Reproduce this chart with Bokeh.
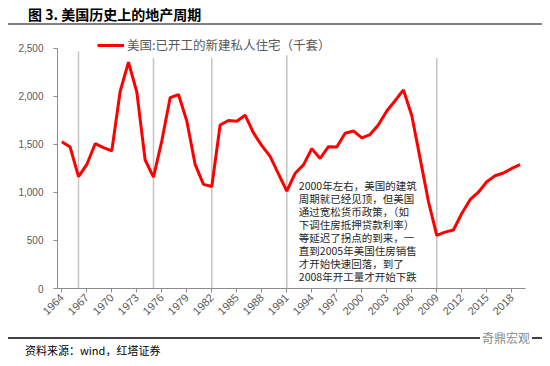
from bokeh.plotting import figure
from bokeh.layouts import column
from bokeh.models import (Range1d, FixedTicker, NumeralTickFormatter,
                          Legend, LegendItem, Div, ColumnDataSource)
from bokeh.core.properties import value
from bokeh.embed import file_html
from bokeh.resources import INLINE
import math

years = list(range(1964, 2020))
starts = [1529, 1473, 1165, 1292, 1508, 1467, 1434, 2052, 2357, 2045,
          1338, 1160, 1538, 1987, 2020, 1745, 1292, 1084, 1062, 1703,
          1750, 1742, 1805, 1621, 1488, 1376, 1193, 1014, 1200, 1288,
          1457, 1354, 1477, 1474, 1617, 1641, 1569, 1603, 1705, 1848,
          1956, 2068, 1801, 1355, 906, 554, 587, 609, 781, 925,
          1003, 1112, 1174, 1203, 1250, 1290]
trough_years = [1966, 1975, 1982, 1991, 2009]
trough_tops = [2470, 2400, 2400, 2430, 2400]
tick_years = list(range(1964, 2019, 3))
y_ticks = [0, 500, 1000, 1500, 2000, 2500]

title_text = "图 3. 美国历史上的地产周期"
legend_text = "美国:已开工的新建私人住宅（千套）"
source_text = "资料来源：wind，红塔证券"
mark_text = "奇鼎宏观"
note_lines = ["2000年左右，美国的建筑", "周期就已经见顶，但美国", "通过宽松货币政策，（如",
              "下调住房抵押贷款利率）", "等延迟了拐点的到来，一", "直到2005年美国住房销售",
              "才开始快速回落，到了", "2008年开工量才开始下跌"]

FONT = "Noto Sans CJK SC"
W = 534

title_div = Div(
    text=(f'<div style="position:relative;height:15px;width:{W}px">'
          f'<span style="position:absolute;left:20px;top:0px;font-family:\'{FONT}\';'
          f'font-weight:bold;font-size:14px;line-height:13px;color:#000;'
          f'white-space:nowrap">{title_text}</span></div>'),
    width=W, height=17, margin=0,
    styles={"border-bottom": "2px solid #808080", "box-sizing": "border-box",
            "padding": "0", "overflow": "visible"})

p = figure(width=W, height=312, output_backend="svg", toolbar_location=None,
           x_range=Range1d(1963.48, 2019.65), y_range=Range1d(0, 2635),
           min_border_left=49, min_border_right=17, min_border_top=10,
           min_border_bottom=49, margin=0)
p.outline_line_color = None
p.xgrid.visible = False
p.ygrid.visible = False
p.background_fill_color = "white"

p.segment(x0=trough_years, y0=[0] * len(trough_years), x1=trough_years,
          y1=trough_tops, line_color="#C4C4C4", line_width=1.5)

line = p.line(years, starts, line_color="#FF0000", line_width=3)

p.xaxis.ticker = FixedTicker(ticks=tick_years)
p.xaxis.major_label_orientation = math.pi / 4
p.xaxis.minor_tick_line_color = None
p.xaxis.major_tick_out = 4
p.xaxis.major_tick_in = 0
p.xaxis.axis_line_color = "#8C8C8C"
p.xaxis.major_tick_line_color = "#8C8C8C"
p.xaxis.major_label_text_color = "#595959"
p.xaxis.major_label_text_font = "Liberation Sans"
p.xaxis.major_label_text_font_size = "11px"
p.xaxis.major_label_standoff = 3

p.yaxis.ticker = FixedTicker(ticks=y_ticks)
p.yaxis.formatter = NumeralTickFormatter(format="0,0")
p.yaxis.bounds = (0, 2500)
p.yaxis.minor_tick_line_color = None
p.yaxis.major_tick_out = 4
p.yaxis.major_tick_in = 0
p.yaxis.axis_line_color = "#8C8C8C"
p.yaxis.major_tick_line_color = "#8C8C8C"
p.yaxis.major_label_text_color = "#595959"
p.yaxis.major_label_text_font = "Liberation Sans"
p.yaxis.major_label_text_font_size = "10px"
p.yaxis.major_label_standoff = 10

legend = Legend(items=[LegendItem(label=legend_text, renderers=[line])],
                location=(40, 234), orientation="horizontal",
                background_fill_alpha=0, border_line_alpha=0,
                padding=0, margin=0, glyph_width=27, glyph_height=14,
                label_standoff=3, label_text_font=FONT,
                label_text_font_size="12.5px", label_text_color="#595959")
p.add_layout(legend, "center")

# annotation text, one glyph per line (line step in data units of the y scale)
note_x = 1992.45
note_top = 1073
note_step = 136
note_src = ColumnDataSource(dict(
    x=[note_x] * len(note_lines),
    y=[note_top - i * note_step for i in range(len(note_lines))],
    t=note_lines))
p.text(x="x", y="y", text="t", source=note_src, text_font=value(FONT),
       text_font_size="10.5px", text_color="#262626", text_baseline="middle",
       text_align="left")

source_div = Div(
    text=(f'<div style="position:relative;height:25px;width:{W}px">'
          f'<span style="position:absolute;left:17px;top:4px;font-family:\'{FONT}\';'
          f'font-size:11px;line-height:14px;color:#000;white-space:nowrap">{source_text}</span>'
          f'<span style="position:absolute;left:472px;top:-8px;padding:0 2px;background:#fff;'
          f'font-family:\'{FONT}\';font-size:12px;line-height:14px;color:#8A8A8A;'
          f'white-space:nowrap">{mark_text}</span></div>'),
    width=W, height=27, margin=0,
    styles={"border-top": "2px solid #404040", "box-sizing": "border-box",
            "padding": "0", "overflow": "visible"})

layout = column(title_div, p, source_div, spacing=0, margin=(8, 8, 0, 8))

open("out.html", "w").write(file_html(layout, INLINE))
